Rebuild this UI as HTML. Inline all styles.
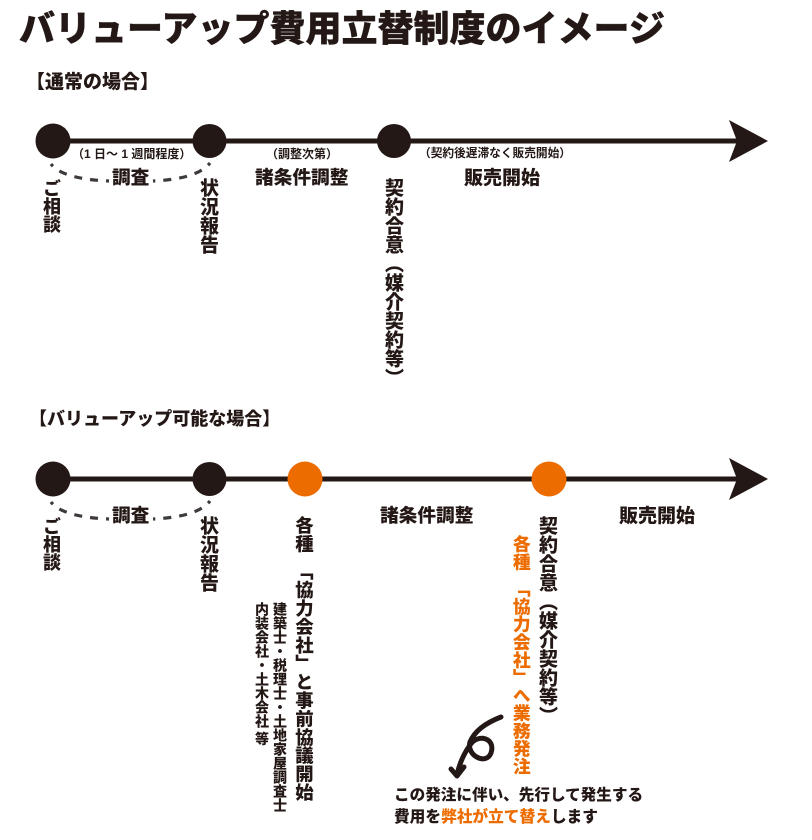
<!DOCTYPE html>
<html lang="ja"><head><meta charset="utf-8"><style>
html,body{margin:0;padding:0;background:#fff}
#p{position:relative;width:812px;height:840px;overflow:hidden;background:#fff;font-family:"Liberation Sans","Noto Sans CJK JP",sans-serif;font-weight:900;color:#231815}
#p svg{position:absolute;left:0;top:0}
.h,.v{position:absolute;white-space:pre;line-height:1}
.v{writing-mode:vertical-rl;font-size:19px}
.o{color:#ec6c00}
.h{font-size:18.7px}
.s{font-size:12px;font-weight:700}
</style></head><body><div id="p">
<svg width="812" height="840" viewBox="0 0 812 840">
<g fill="#231815">
<rect x="53" y="138.5" width="690" height="5"/>
<path d="M729 120 L768 141 L729 162 L737 141Z"/>
<circle cx="53" cy="141" r="17.5"/><circle cx="209.5" cy="141" r="17"/><circle cx="394" cy="141" r="17"/>
<rect x="53" y="476.5" width="690" height="5"/>
<path d="M729 458 L768 479 L729 500 L737 479Z"/>
<circle cx="53" cy="479" r="17.5"/><circle cx="209.5" cy="479" r="17"/>
</g>
<circle cx="305" cy="479" r="17.5" fill="#ec6c00"/><circle cx="549" cy="479" r="17.5" fill="#ec6c00"/>
<g fill="none" stroke="#3e3a39" stroke-width="3.2" stroke-dasharray="3 8 8 8 8 8 8 8 3 20">
<path d="M51 164 C60 176 85 180 109 181"/><path d="M210 163 C200 176 175 180 153 181"/>
<path d="M51 502 C60 514 85 518 109 519"/><path d="M210 501 C200 514 175 518 153 519"/>
</g>
<g fill="none" stroke="#231815" stroke-width="5" stroke-linecap="round" stroke-linejoin="round">
<path d="M501 717 C488 722 475 730 470 742 C466 755 486 766 491 753 C496 738 478 733 470 745 C463 755 459 765 457 775"/>
<path d="M451 769 L457 776 L464 767"/>
</g>
</svg>
<div class="h" style="left:19px;top:11px;font-size:36px;-webkit-text-stroke:.4px #231815">バリューアップ費用立替制度のイメージ</div>
<div class="h" style="left:26px;top:73px;font-size:19px">【通常の場合】</div>
<div class="h" style="left:29px;top:410px;font-size:18px">【バリューアップ可能な場合】</div>

<div class="h s" style="left:72px;top:148px">（1 日～ 1 週間程度）</div>
<div class="h s" style="left:266px;top:148px">（調整次第）</div>
<div class="h s" style="left:419px;top:148px;font-size:11.7px">（契約後遅滞なく販売開始）</div>

<div class="h" style="left:112px;top:169px">調査</div>
<div class="h" style="left:255px;top:169px">諸条件調整</div>
<div class="h" style="left:464px;top:169px;font-size:19px">販売開始</div>
<div class="v" style="left:42px;top:179px;font-size:18px">ご相談</div>
<div class="v" style="left:198px;top:178px">状況報告</div>
<div class="v" style="left:383px;top:178px">契約合意（媒介契約等）</div>

<div class="h" style="left:112px;top:507px">調査</div>
<div class="h" style="left:380px;top:507px">諸条件調整</div>
<div class="h" style="left:619px;top:507px;font-size:19px">販売開始</div>
<div class="v" style="left:42px;top:517px;font-size:18px">ご相談</div>
<div class="v" style="left:198px;top:516px">状況報告</div>
<div class="v" style="left:294px;top:516px;font-size:18.4px">各種　「協力会社」と事前協議開始</div>
<div class="v" style="left:273px;top:602px;font-size:14px">建築士・税理士・土地家屋調査士</div>
<div class="v" style="left:255px;top:602px;font-size:14px">内装会社・土木会社 等</div>
<div class="v" style="left:537px;top:516px">契約合意（媒介契約等）</div>
<div class="v o" style="left:511px;top:535px;font-size:17.8px">各種　「協力会社」へ業務発注</div>
<div class="h" style="left:394px;top:788px;font-size:15.6px">この発注に伴い、先行して発生する</div>
<div class="h" style="left:394px;top:810px;font-size:15.7px">費用を<span class="o">弊社が立て替え</span>します</div>
</div></body></html>
